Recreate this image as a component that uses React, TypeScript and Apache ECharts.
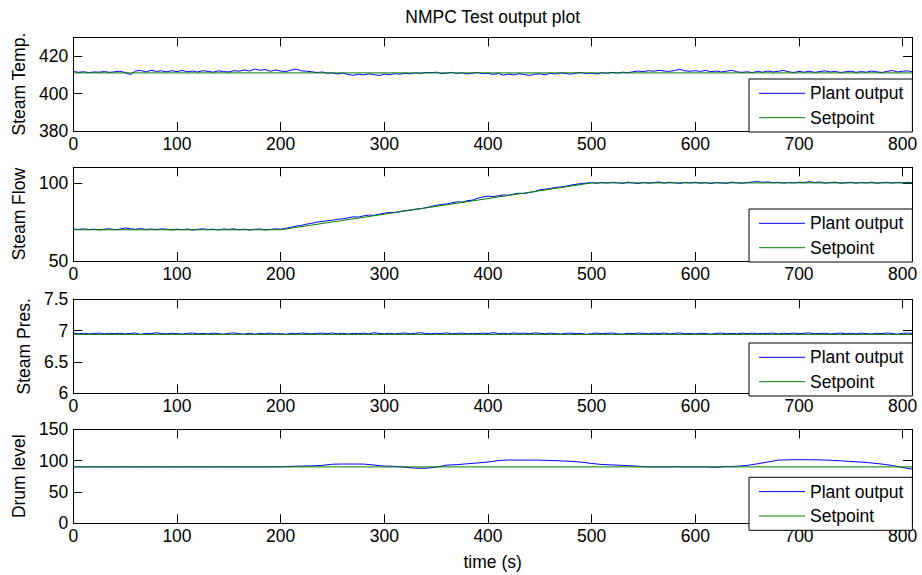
import React, { useEffect, useRef } from 'react';
import * as echarts from 'echarts';

// ---------- DATA ----------
const TIME_END = 809;
const STEP_FAST = 5;
const STEP_DRUM = 10;

const seriesNames = ['Plant output', 'Setpoint'];
const axisNames = ['Steam Temp.', 'Steam Flow', 'Steam Pres.', 'Drum level'];
const titleText = 'NMPC Test output plot';
const xAxisName = 'time (s)';

// Steam temperature, plant output, sampled every 5 s
const tempPlant = [
  411.8, 411.3, 411.6, 411.2, 411.5, 411.4, 411.7, 411.3, 411.6, 411.9,
  411.2, 410.1, 412.0, 412.3, 411.5, 412.4, 411.8, 412.1, 411.6, 412.2,
  411.7, 412.3, 411.6, 412.0, 411.5, 412.2, 411.8, 411.4, 412.1, 411.7,
  411.5, 412.2, 411.9, 412.6, 412.0, 413.1, 412.4, 412.8, 411.9, 412.6,
  412.0, 411.7, 412.5, 413.0, 412.1, 411.9, 411.6, 411.2, 411.5, 410.8,
  411.0, 410.4, 410.9, 410.2, 409.7, 410.3, 409.9, 410.5, 410.1, 409.6,
  410.4, 410.0, 410.6, 410.3, 410.8, 410.5, 411.0, 410.7, 411.2, 411.1,
  411.4, 410.6, 410.9, 411.3, 410.7, 411.0, 410.4, 410.9, 411.2, 410.6,
  410.8, 410.2, 410.7, 409.8, 410.4, 409.9, 410.6, 410.1, 409.7, 410.3,
  410.5, 410.0, 410.8, 410.4, 411.0, 410.7, 410.3, 410.9, 411.2, 410.6,
  410.9, 410.4, 411.1, 410.8, 411.3, 410.9, 411.4, 411.1, 411.6, 412.0,
  411.7, 412.2, 411.9, 412.4, 412.0, 411.8, 412.3, 412.9, 412.1, 411.9,
  412.2, 411.8, 412.3, 411.7, 412.0, 411.5, 411.9, 412.4, 411.6, 411.3,
  411.6, 411.2, 411.8, 411.4, 412.0, 411.5, 411.9, 412.3, 411.6, 411.2,
  411.8, 411.4, 411.9, 411.3, 411.7, 412.1, 411.5, 411.8, 411.2, 411.6,
  411.9, 411.3, 411.7, 411.4, 412.0, 411.6, 411.2, 411.8, 412.3, 411.5,
  411.9, 412.1, 411.6,
];
const tempSetTimes = [0, 809];
const tempSetValues = [411, 411];

// Steam flow, plant output, sampled every 5 s
const flowPlant = [
  70.5, 70.2, 70.6, 70.1, 70.4, 69.9, 70.3, 70.7, 70.0, 70.4,
  71.2, 70.6, 70.3, 70.8, 70.2, 70.5, 70.1, 70.6, 70.3, 69.9,
  70.4, 70.0, 70.5, 69.8, 70.3, 70.6, 70.1, 70.4, 69.9, 70.5,
  70.2, 70.6, 70.0, 70.4, 69.8, 70.3, 70.5, 69.9, 70.2, 70.6,
  70.4, 70.9, 71.6, 72.4, 72.8, 73.6, 74.1, 74.9, 75.3, 75.8,
  76.1, 76.8, 77.0, 77.6, 78.3, 78.1, 78.9, 79.4, 79.2, 80.0,
  80.6, 81.1, 81.0, 81.7, 82.3, 82.6, 83.2, 83.5, 84.1, 84.9,
  85.6, 86.2, 86.5, 87.2, 87.9, 87.7, 88.6, 89.0, 90.2, 91.0,
  91.6, 91.2, 91.8, 92.3, 92.1, 92.9, 93.4, 93.2, 93.9, 94.4,
  95.6, 96.0, 96.4, 97.1, 97.4, 97.9, 98.6, 99.1, 99.6, 99.9,
  100.2, 99.8, 100.3, 99.9, 100.4, 100.1, 99.7, 100.5, 100.0, 99.6,
  100.3, 99.8, 100.2, 100.6, 99.9, 100.4, 100.1, 99.7, 100.3, 100.0,
  100.4, 99.8, 100.2, 99.6, 100.3, 100.0, 99.7, 100.5, 100.1, 99.8,
  100.2, 100.6, 100.9, 100.3, 100.7, 100.1, 100.4, 99.9, 100.3, 100.0,
  100.5, 100.2, 100.8, 100.3, 100.6, 99.9, 100.2, 100.5, 99.8, 100.1,
  100.4, 99.9, 100.3, 100.0, 100.5, 99.8, 100.2, 100.4, 99.9, 100.3,
  100.1, 100.4, 100.2,
];
const flowSetTimes = [0, 200, 500, 809];
const flowSetValues = [70, 70, 100, 100];

// Steam pressure, plant output, sampled every 5 s
const presPlant = [
  6.962, 6.951, 6.957, 6.948, 6.955, 6.960, 6.949, 6.956, 6.952, 6.958,
  6.947, 6.955, 6.961, 6.938, 6.957, 6.952, 6.966, 6.954, 6.949, 6.958,
  6.953, 6.945, 6.957, 6.962, 6.950, 6.955, 6.947, 6.959, 6.952, 6.944,
  6.957, 6.965, 6.950, 6.945, 6.958, 6.942, 6.956, 6.949, 6.961, 6.946,
  6.954, 6.941, 6.958, 6.950, 6.962, 6.955, 6.948, 6.957, 6.960, 6.952,
  6.963, 6.950, 6.958, 6.945, 6.956, 6.952, 6.959, 6.948, 6.966, 6.955,
  6.950, 6.958, 6.947, 6.956, 6.962, 6.951, 6.957, 6.967, 6.955, 6.949,
  6.958, 6.952, 6.964, 6.950, 6.956, 6.961, 6.949, 6.957, 6.953, 6.960,
  6.955, 6.968, 6.953, 6.958, 6.950, 6.962, 6.956, 6.959, 6.951, 6.963,
  6.957, 6.949, 6.961, 6.953, 6.945, 6.957, 6.960, 6.952, 6.956, 6.938,
  6.956, 6.960, 6.951, 6.957, 6.962, 6.949, 6.945, 6.958, 6.953, 6.961,
  6.956, 6.950, 6.959, 6.953, 6.962, 6.948, 6.957, 6.963, 6.951, 6.955,
  6.948, 6.958, 6.953, 6.944, 6.957, 6.961, 6.950, 6.956, 6.949, 6.959,
  6.953, 6.960, 6.951, 6.957, 6.955, 6.962, 6.948, 6.958, 6.954, 6.960,
  6.952, 6.958, 6.963, 6.950, 6.956, 6.959, 6.947, 6.955, 6.961, 6.951,
  6.957, 6.949, 6.960, 6.954, 6.946, 6.958, 6.952, 6.963, 6.955, 6.942,
  6.957, 6.960, 6.955,
];
const presSetTimes = [0, 809];
const presSetValues = [6.94, 6.94];

// Drum level, plant output, sampled every 10 s
const drumPlant = [
  90.1, 90.0, 90.1, 90.0, 90.0, 90.1, 90.0, 90.0, 90.1, 90.0,
  90.0, 90.1, 90.0, 90.0, 90.1, 90.0, 90.0, 90.1, 90.0, 90.1,
  90.2, 90.9, 91.3, 91.6, 92.4, 94.3, 94.6, 94.6, 94.5, 93.0,
  91.3, 90.9, 89.5, 87.9, 87.8, 89.6, 92.8, 93.6, 95.0, 96.3,
  97.8, 100.2, 101.0, 100.8, 100.9, 100.7, 100.3, 99.6, 98.9, 97.6,
  95.5, 93.8, 93.2, 92.4, 91.6, 90.3, 90.1, 90.0, 90.2, 90.0,
  90.1, 90.0, 89.4, 90.5, 91.0, 92.4, 95.0, 97.8, 100.8, 101.3,
  101.5, 101.4, 101.2, 100.6, 99.7, 98.6, 97.7, 96.3, 94.5, 92.3,
  89.0, 86.5,
];
const drumSetTimes = [0, 809];
const drumSetValues = [90, 90];

// y axis ranges and tick intervals per panel
const yMins = [380, 50, 6, 0];
const yMaxs = [430, 110, 7.5, 150];
const yIntervals = [20, 50, 0.5, 50];
const X_INTERVAL = 100;

// ---------- LAYOUT / STYLE ----------
const FONT = '"Liberation Sans", Arial, Helvetica, sans-serif';
const FS = 17.5;
const GRID_LEFT = 73.3;
const GRID_RIGHT = 10;
const gridTops = [37.3, 167.3, 299.3, 429.3];
const gridHeights = [93.7, 93.7, 94, 94];
const legendTops = [79, 209, 343, 477.3];
const nameXs = [18.5, 18.5, 23.5, 18.5];
const BLUE = '#0000ff';
const GREEN = '#008000';

const pairsStep = (vals: number[], step: number) =>
  vals.map((v, i) => [Math.min(i * step, TIME_END), v]);
const pairsXY = (xs: number[], ys: number[]) => xs.map((x, i) => [x, ys[i]]);
const isMultiple = (v: number, step: number) => Math.abs(v / step - Math.round(v / step)) < 1e-6;

export default function App() {
  const ref = useRef<HTMLDivElement>(null);

  useEffect(() => {
    if (!ref.current) return;
    const chart = echarts.init(ref.current, undefined, { renderer: 'svg' });

    const plants = [
      pairsStep(tempPlant, STEP_FAST),
      pairsStep(flowPlant, STEP_FAST),
      pairsStep(presPlant, STEP_FAST),
      pairsStep(drumPlant, STEP_DRUM),
    ];
    const setpoints = [
      pairsXY(tempSetTimes, tempSetValues),
      pairsXY(flowSetTimes, flowSetValues),
      pairsXY(presSetTimes, presSetValues),
      pairsXY(drumSetTimes, drumSetValues),
    ];

    const grid: any[] = [];
    const xAxis: any[] = [];
    const yAxis: any[] = [];
    const series: any[] = [];
    const legend: any[] = [];
    const graphic: any[] = [];

    const tick = () => ({ show: true, inside: true, length: 9, lineStyle: { color: '#000', width: 1 } });
    const axLine = () => ({ show: true, onZero: false, lineStyle: { color: '#000', width: 1 } });

    for (let i = 0; i < 4; i++) {
      grid.push({ left: GRID_LEFT, right: GRID_RIGHT, top: gridTops[i], height: gridHeights[i] });
      // bottom x axis (index 2i) and top x axis (2i+1)
      xAxis.push({
        type: 'value', gridIndex: i, position: 'bottom', min: 0, max: TIME_END, interval: X_INTERVAL,
        axisLine: axLine(), axisTick: tick(), splitLine: { show: false },
        axisLabel: {
          show: true, margin: 4, color: '#000', fontSize: FS, fontFamily: FONT,
          formatter: (v: number) => (isMultiple(v, X_INTERVAL) ? String(v) : ''),
        },
      });
      xAxis.push({
        type: 'value', gridIndex: i, position: 'top', min: 0, max: TIME_END, interval: X_INTERVAL,
        axisLine: axLine(), axisTick: tick(), splitLine: { show: false }, axisLabel: { show: false },
      });
      const yi = yIntervals[i];
      // left y axis (2i) and right y axis (2i+1)
      yAxis.push({
        type: 'value', gridIndex: i, position: 'left', min: yMins[i], max: yMaxs[i], interval: yi,
        axisLine: axLine(), axisTick: tick(), splitLine: { show: false },
        axisLabel: {
          show: true, margin: 5, color: '#000', fontSize: FS, fontFamily: FONT,
          formatter: (v: number) => (isMultiple(v, yi) ? String(v) : ''),
        },
      });
      yAxis.push({
        type: 'value', gridIndex: i, position: 'right', min: yMins[i], max: yMaxs[i], interval: yi,
        axisLine: axLine(), axisTick: tick(), splitLine: { show: false }, axisLabel: { show: false },
      });

      series.push({
        type: 'line', name: seriesNames[0], xAxisIndex: 2 * i, yAxisIndex: 2 * i, data: plants[i],
        symbol: 'none', showSymbol: false, lineStyle: { color: BLUE, width: 1 }, itemStyle: { color: BLUE },
      });
      series.push({
        type: 'line', name: seriesNames[1], xAxisIndex: 2 * i, yAxisIndex: 2 * i, data: setpoints[i],
        symbol: 'none', showSymbol: false, lineStyle: { color: GREEN, width: 1 }, itemStyle: { color: GREEN },
      });

      legend.push({
        data: seriesNames, orient: 'vertical', left: 749, top: legendTops[i],
        padding: [4.3, 9, 4.3, 9.5], itemGap: 4.4, itemWidth: 46, itemHeight: 14,
        backgroundColor: '#fff', borderColor: '#000', borderWidth: 1, borderRadius: 0,
        selectedMode: false, itemStyle: { opacity: 0 }, lineStyle: { width: 1 },
        textStyle: { fontSize: FS, color: '#000', fontFamily: FONT, lineHeight: 20 },
      });

      graphic.push({
        type: 'text', x: nameXs[i], y: gridTops[i] + gridHeights[i] / 2, rotation: Math.PI / 2,
        style: { text: axisNames[i], fill: '#000', font: `${FS}px ${FONT}`, align: 'center', verticalAlign: 'middle' },
      });
    }

    const cx = GRID_LEFT + (922 - GRID_LEFT - GRID_RIGHT) / 2;
    graphic.push({
      type: 'text', x: cx, y: 17,
      style: { text: titleText, fill: '#000', font: `${FS}px ${FONT}`, align: 'center', verticalAlign: 'middle' },
    });
    graphic.push({
      type: 'text', x: cx, y: 562,
      style: { text: xAxisName, fill: '#000', font: `${FS}px ${FONT}`, align: 'center', verticalAlign: 'middle' },
    });

    chart.setOption({ animation: false, backgroundColor: '#fff', grid, xAxis, yAxis, series, legend, graphic });
    return () => chart.dispose();
  }, []);

  return (
    <div ref={ref} style={{ position: 'fixed', left: 0, top: 0, width: 922, height: 575, background: '#fff' }} />
  );
}
